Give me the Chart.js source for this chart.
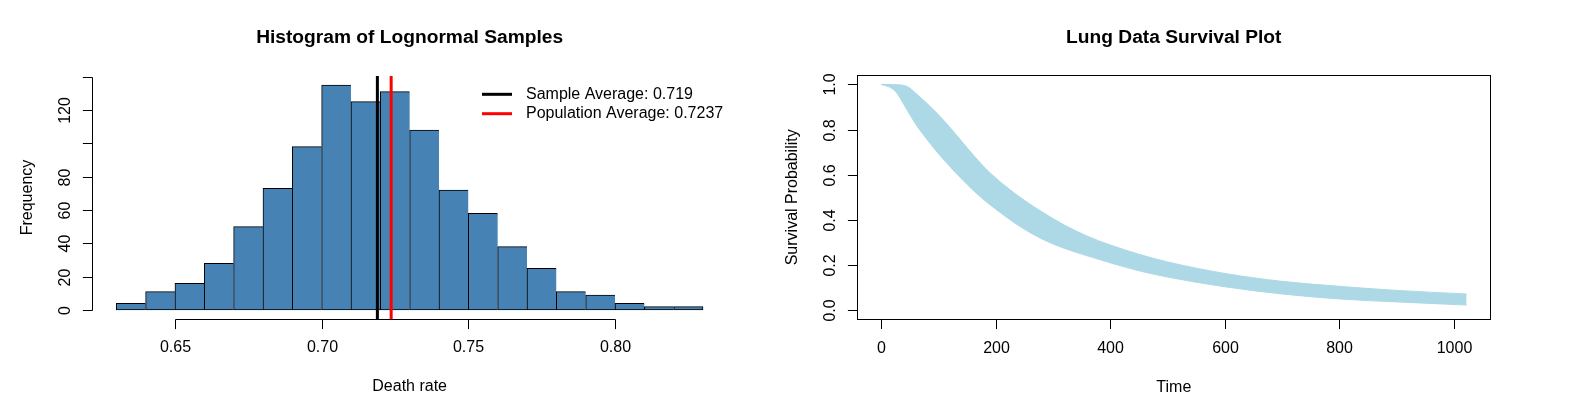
<!DOCTYPE html>
<html>
<head>
<meta charset="utf-8">
<script src="https://cdn.jsdelivr.net/npm/chart.js@4.4.1/dist/chart.umd.min.js"></script>
<style>
  html, body { margin: 0; padding: 0; background: #fff; }
  #wrap { position: relative; width: 1569px; height: 415px; overflow: hidden; }
  canvas { position: absolute; top: 0; }
</style>
</head>
<body>
<div id="wrap">
  <canvas id="hist" width="785" height="415" style="left:0px"></canvas>
  <canvas id="surv" width="809" height="415" style="left:760px"></canvas>
</div>
<script>
// histogram of the lognormal samples (bin mids, width 0.01)
const binMids = [0.635, 0.645, 0.655, 0.665, 0.675, 0.685, 0.695, 0.705, 0.715, 0.725,
                 0.735, 0.745, 0.755, 0.765, 0.775, 0.785, 0.795, 0.805, 0.815, 0.825];
const frequency = [4, 11, 16, 28, 50, 73, 98, 135, 125, 131, 108, 72, 58, 38, 25, 11, 9, 4, 2, 2];
const sampleAverage = 0.719;
const populationAverage = 0.7237;

const histXTicks = [0.65, 0.70, 0.75, 0.80];
const histXLabels = ['0.65', '0.70', '0.75', '0.80'];
const histYTicks = [0, 20, 40, 60, 80, 100, 120, 140];
const histYLabels = ['0', '20', '40', '60', '80', '', '120', ''];

// survival curves band (upper and lower envelope of the curves)
const survTime  = [0, 20, 30, 40, 50, 60, 80, 100, 120, 140, 160, 180, 200, 240, 280, 320, 360, 400, 450, 500, 600, 700, 800, 900, 1022];
const survUpper = [1.0, 0.999, 0.998, 0.995, 0.984, 0.962, 0.916, 0.866, 0.81, 0.75, 0.69, 0.634, 0.586, 0.505, 0.437, 0.377, 0.328, 0.289, 0.248, 0.214, 0.163, 0.128, 0.106, 0.088, 0.072];
const survLower = [1.0, 0.98, 0.953, 0.91, 0.868, 0.826, 0.757, 0.694, 0.637, 0.583, 0.533, 0.488, 0.448, 0.375, 0.317, 0.274, 0.241, 0.21, 0.175, 0.147, 0.104, 0.072, 0.05, 0.037, 0.023];

const survXTicks = [0, 200, 400, 600, 800, 1000];
const survXLabels = ['0', '200', '400', '600', '800', '1000'];
const survYTicks = [0, 0.2, 0.4, 0.6, 0.8, 1.0];
const survYLabels = ['0.0', '0.2', '0.4', '0.6', '0.8', '1.0'];

const FONT = '"Liberation Sans", Arial, sans-serif';

// draws the R style axes, titles, box and legend
const rStyle = {
    id: 'rStyle',
    afterDraw(chart, args, o) {
        const ctx = chart.ctx;
        const xs = chart.scales.x;
        const ys = chart.scales.y;
        const a = chart.chartArea;
        ctx.save();
        ctx.strokeStyle = '#000';
        ctx.fillStyle = '#000';
        ctx.lineWidth = 1;

        // x axis
        const xb = Math.round(a.bottom) + 0.5;
        const xp = o.xTicks.map(v => Math.round(xs.getPixelForValue(v)) + 0.5);
        ctx.beginPath();
        ctx.moveTo(xp[0], xb);
        ctx.lineTo(xp[xp.length - 1], xb);
        xp.forEach(p => { ctx.moveTo(p, xb); ctx.lineTo(p, xb + 9.6); });
        ctx.stroke();

        ctx.font = '16px ' + FONT;
        ctx.textAlign = 'center';
        ctx.textBaseline = 'middle';
        o.xLabels.forEach((l, i) => ctx.fillText(l, xp[i], a.bottom + 29));
        ctx.fillText(o.xTitle, (a.left + a.right) / 2, a.bottom + 68);

        // y axis
        const yl = Math.round(a.left) - 0.5;
        const yp = o.yTicks.map(v => Math.round(ys.getPixelForValue(v)) + 0.5);
        ctx.beginPath();
        ctx.moveTo(yl, yp[0]);
        ctx.lineTo(yl, yp[yp.length - 1]);
        yp.forEach(p => { ctx.moveTo(yl, p); ctx.lineTo(yl - 9.6, p); });
        ctx.stroke();

        o.yLabels.forEach((l, i) => {
            if (!l) return;
            ctx.save();
            ctx.translate(a.left - 27.5, yp[i]);
            ctx.rotate(-Math.PI / 2);
            ctx.fillText(l, 0, 0);
            ctx.restore();
        });
        ctx.save();
        ctx.translate(a.left - 65, (a.top + a.bottom) / 2);
        ctx.rotate(-Math.PI / 2);
        ctx.fillText(o.yTitle, 0, 0);
        ctx.restore();

        // main title
        ctx.font = 'bold 19.2px ' + FONT;
        ctx.fillText(o.title, (a.left + a.right) / 2, 38);

        if (o.box) {
            ctx.strokeRect(Math.round(a.left) - 0.5, Math.round(a.top) + 0.5,
                Math.round(a.right - a.left) + 1, Math.round(a.bottom - a.top));
        }

        // legend, no frame
        if (o.legend) {
            ctx.font = '16px ' + FONT;
            ctx.textAlign = 'left';
            o.legend.forEach((it, i) => {
                const y = o.legendY + i * 19.4;
                ctx.strokeStyle = it.color;
                ctx.lineWidth = 3;
                ctx.beginPath();
                ctx.moveTo(o.legendX, y);
                ctx.lineTo(o.legendX + 30, y);
                ctx.stroke();
                ctx.fillStyle = '#000';
                ctx.fillText(it.text, o.legendX + 44, y);
            });
        }
        ctx.restore();
    }
};

function vline(x, color, label) {
    return {
        type: 'line',
        label: label,
        data: [{ x: x, y: -5.4 }, { x: x, y: 140.4 }],
        borderColor: color,
        borderWidth: 3,
        pointRadius: 0,
        order: 0
    };
}

new Chart(document.getElementById('hist'), {
    type: 'bar',
    data: {
        datasets: [
            vline(sampleAverage, '#000000', 'Sample Average: ' + sampleAverage),
            vline(populationAverage, '#ff0000', 'Population Average: ' + populationAverage),
            {
                type: 'bar',
                label: 'Frequency',
                data: binMids.map((m, i) => ({ x: m, y: frequency[i] })),
                backgroundColor: '#4682b4',
                borderColor: '#000000',
                borderSkipped: false,
                borderWidth: (c) => ({ left: 1, top: 1, bottom: 1, right: c.dataIndex === binMids.length - 1 ? 1 : 0 }),
                barPercentage: 1,
                categoryPercentage: 1,
                order: 1
            }
        ]
    },
    options: {
        responsive: false,
        animation: false,
        layout: { padding: { left: 92.8, right: 58.5, top: 76, bottom: 96 } },
        scales: {
            x: { type: 'linear', display: false, offset: false, min: 0.622, max: 0.838 },
            y: { type: 'linear', display: false, min: -5.4, max: 140.4 }
        },
        plugins: {
            legend: { display: false },
            tooltip: { enabled: false },
            rStyle: {
                title: 'Histogram of Lognormal Samples',
                xTitle: 'Death rate',
                yTitle: 'Frequency',
                xTicks: histXTicks, xLabels: histXLabels,
                yTicks: histYTicks, yLabels: histYLabels,
                box: false,
                legendX: 482, legendY: 94.3,
                legend: [
                    { text: 'Sample Average: ' + sampleAverage, color: '#000000' },
                    { text: 'Population Average: ' + populationAverage, color: '#ff0000' }
                ]
            }
        }
    },
    plugins: [rStyle]
});

new Chart(document.getElementById('surv'), {
    type: 'line',
    data: {
        datasets: [
            {
                label: 'upper',
                data: survTime.map((t, i) => ({ x: t, y: survUpper[i] })),
                borderColor: '#add8e6',
                borderWidth: 1,
                pointRadius: 0,
                cubicInterpolationMode: 'monotone',
                fill: false
            },
            {
                label: 'lower',
                data: survTime.map((t, i) => ({ x: t, y: survLower[i] })),
                borderColor: '#add8e6',
                backgroundColor: '#add8e6',
                borderWidth: 1,
                pointRadius: 0,
                cubicInterpolationMode: 'monotone',
                fill: '-1'
            }
        ]
    },
    options: {
        responsive: false,
        animation: false,
        layout: { padding: { left: 97.6, right: 79, top: 75.3, bottom: 95.7 } },
        scales: {
            x: { type: 'linear', display: false, min: -40.88, max: 1062.88 },
            y: { type: 'linear', display: false, min: -0.04, max: 1.04 }
        },
        plugins: {
            legend: { display: false },
            tooltip: { enabled: false },
            rStyle: {
                title: 'Lung Data Survival Plot',
                xTitle: 'Time',
                yTitle: 'Survival Probability',
                xTicks: survXTicks, xLabels: survXLabels,
                yTicks: survYTicks, yLabels: survYLabels,
                box: true
            }
        }
    },
    plugins: [rStyle]
});
</script>
</body>
</html>
